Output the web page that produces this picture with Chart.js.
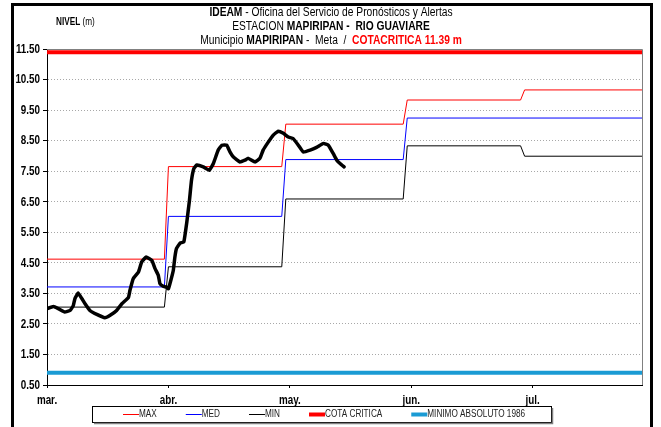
<!DOCTYPE html>
<html>
<head>
<meta charset="utf-8">
<script src="https://cdn.jsdelivr.net/npm/chart.js@4.4.1/dist/chart.umd.min.js"></script>
<style>
  html, body { margin: 0; padding: 0; background: #fff; }
  #wrap { position: relative; width: 661px; height: 427px; }
</style>
</head>
<body>
<div id="wrap"><canvas id="c" width="661" height="427"></canvas></div>
<script>
const FAMILY = '"Liberation Sans", Arial, sans-serif';
const SQUEEZE = 0.82; // horizontal condensing for the narrow lettering

// Day axis: day 0 = 1 March
const monthTicks  = [0, 30, 60, 90, 120];
const monthLabels = ['mar.', 'abr.', 'may.', 'jun.', 'jul.'];
const dayMax = 147;

// Level axis (m)
const levelMin = 0.5;
const levelMax = 11.5;
const levelStep = 1;

// Historic reference levels by period (stepwise)
const maxDays   = [0, 29, 30, 58, 59, 88, 89, 117, 118, 147];
const maxLevels = [4.62, 4.62, 7.65, 7.65, 9.04, 9.04, 9.83, 9.83, 10.16, 10.16];

const medDays   = [0, 29, 30, 58, 59, 88, 89, 147];
const medLevels = [3.71, 3.71, 6.02, 6.02, 7.88, 7.88, 9.24, 9.24];

const minDays   = [0, 29, 30, 58, 59, 88, 89, 117, 118, 147];
const minLevels = [3.05, 3.05, 4.37, 4.37, 6.59, 6.59, 8.33, 8.33, 7.99, 7.99];

const cotaCritica    = 11.39;
const minimoAbsoluto = 0.9;

// Observed daily levels
const obsDays = [0, 1.6, 2.8, 4.4, 5.7, 6.5, 6.9, 7.7, 8.6, 9.4, 10.6, 12.3, 14.3, 15.6, 17.2,
  18.5, 20.1, 20.5, 21.3, 22.6, 23.4, 24.5, 25.9, 26.7, 27.5, 27.9, 28.7, 29.4, 30.0, 30.6,
  31.2, 31.6, 32.0, 32.9, 33.8, 34.5, 35.2, 35.7, 36.3, 37.0, 38.6, 40.1, 41.1, 42.3, 43.2,
  44.4, 45.2, 46.0, 47.7, 48.9, 49.7, 51.4, 52.6, 53.4, 54.7, 55.9, 57.1, 58.4, 59.6, 60.8,
  62.1, 63.3, 65.0, 66.6, 68.3, 69.5, 70.7, 71.6, 72.4, 73.4];
const obsLevels = [3.00, 3.07, 3.00, 2.89, 2.94, 3.10, 3.33, 3.51, 3.33, 3.16, 2.94, 2.81, 2.70, 2.78, 2.94,
  3.16, 3.36, 3.60, 3.98, 4.20, 4.53, 4.69, 4.58, 4.31, 4.09, 3.82, 3.73, 3.71, 3.65, 3.93,
  4.25, 4.69, 4.97, 5.15, 5.18, 5.79, 6.55, 7.20, 7.59, 7.70, 7.64, 7.53, 7.75, 8.19, 8.35,
  8.35, 8.13, 7.97, 7.80, 7.86, 7.92, 7.80, 7.92, 8.19, 8.46, 8.68, 8.81, 8.74, 8.62, 8.57,
  8.35, 8.13, 8.19, 8.28, 8.41, 8.35, 8.08, 7.86, 7.75, 7.64];

const pts = (xs, ys) => xs.map((x, i) => ({ x, y: ys[i] }));
const flat = (v) => [{ x: 0, y: v }, { x: dayMax, y: v }];

// condensed text helpers
const fontOf = (bold, size) => (bold ? 'bold ' : '') + size + 'px ' + FAMILY;
function textWidth(ctx, t, bold, size) {
  ctx.font = fontOf(bold, size);
  return ctx.measureText(t).width * SQUEEZE;
}
function drawText(ctx, t, x, y, o) {
  ctx.save();
  ctx.font = fontOf(o.bold, o.size);
  ctx.fillStyle = o.color || '#000';
  ctx.textBaseline = 'middle';
  ctx.textAlign = o.align || 'left';
  ctx.translate(x, y);
  ctx.scale(SQUEEZE, 1);
  ctx.fillText(t, 0, 0);
  ctx.restore();
}
function drawRich(ctx, segs, cx, y, size) {
  let w = 0;
  segs.forEach(s => { w += textWidth(ctx, s.t, s.b, size); });
  let x = cx - w / 2;
  segs.forEach(s => {
    drawText(ctx, s.t, x, y, { bold: s.b, size, color: s.c });
    x += textWidth(ctx, s.t, s.b, size);
  });
}

// Plot border, tick labels, titles, frame and legend
const decorations = {
  id: 'decorations',
  beforeDatasetsDraw(chart) {
    const { ctx, chartArea: a } = chart;
    ctx.save();
    ctx.strokeStyle = '#808080';
    ctx.lineWidth = 1;
    ctx.beginPath();
    ctx.moveTo(a.left, Math.round(a.top) + 0.5);
    ctx.lineTo(Math.round(a.right) + 0.5, Math.round(a.top) + 0.5);
    ctx.lineTo(Math.round(a.right) + 0.5, a.bottom);
    ctx.stroke();
    ctx.restore();
  },
  afterDraw(chart) {
    const { ctx, scales: { x: xs, y: ys } } = chart;

    // axis tick labels, placed by the scales
    ys.ticks.forEach(t => {
      drawText(ctx, Number(t.value).toFixed(2), xs.left - 7, ys.getPixelForValue(t.value) + 0.5,
        { bold: true, size: 12, align: 'right' });
    });
    xs.ticks.forEach(t => {
      const i = monthTicks.indexOf(t.value);
      drawText(ctx, monthLabels[i], xs.getPixelForValue(t.value), ys.bottom + 16,
        { bold: true, size: 12, align: 'center' });
    });

    ctx.save();
    // frame
    ctx.strokeStyle = '#000';
    ctx.lineWidth = 3;
    ctx.strokeRect(12.5, 4.5, 639, 440);
    ctx.restore();

    drawRich(ctx, [{ t: 'IDEAM', b: true }, { t: ' - Oficina del Servicio de Pronósticos y Alertas' }], 331, 13, 12.5);
    drawRich(ctx, [{ t: 'ESTACION ' }, { t: 'MAPIRIPAN -  RIO GUAVIARE', b: true }], 331, 27, 12.5);
    drawRich(ctx, [{ t: 'Municipio ' }, { t: 'MAPIRIPAN', b: true }, { t: ' -  Meta  /  ' },
      { t: 'COTACRITICA ' + cotaCritica.toFixed(2) + ' m', b: true, c: '#ff0000' }], 331, 41, 12.5);

    // axis caption
    drawText(ctx, 'NIVEL', 56, 22, { bold: true, size: 10 });
    drawText(ctx, '(m)', 56 + textWidth(ctx, 'NIVEL ', true, 10), 22, { size: 10 });

    // legend
    const bx = 92, by = 406, bw = 459, bh = 16;
    ctx.save();
    ctx.fillStyle = '#fff';
    ctx.fillRect(bx, by, bw, bh);
    ctx.strokeStyle = '#000';
    ctx.lineWidth = 1;
    ctx.strokeRect(bx + 0.5, by + 0.5, bw, bh);
    ctx.strokeStyle = '#808080';
    ctx.lineWidth = 1.5;
    ctx.beginPath();
    ctx.moveTo(bx + 2, by + bh + 1.5);
    ctx.lineTo(bx + bw + 1.5, by + bh + 1.5);
    ctx.lineTo(bx + bw + 1.5, by + 2);
    ctx.stroke();

    const items = chart.data.datasets.filter(d => d.inLegend);
    const lineLen = 16, gap = 29, size = 10;
    let x = bx + 31;
    const ly = by + bh / 2 + 0.5;
    items.forEach(d => {
      ctx.strokeStyle = d.borderColor;
      ctx.lineWidth = d.borderWidth;
      ctx.beginPath();
      ctx.moveTo(x, ly);
      ctx.lineTo(x + lineLen, ly);
      ctx.stroke();
      drawText(ctx, d.label, x + lineLen, ly, { size, color: '#222' });
      x += lineLen + textWidth(ctx, d.label, false, size) + gap;
    });
    ctx.restore();
  }
};

new Chart(document.getElementById('c'), {
  type: 'scatter',
  data: {
    datasets: [
      { label: 'MAX', data: pts(maxDays, maxLevels), borderColor: '#ff0000', borderWidth: 1, inLegend: true, order: 2 },
      { label: 'MED', data: pts(medDays, medLevels), borderColor: '#0000ff', borderWidth: 1, inLegend: true, order: 3 },
      { label: 'MIN', data: pts(minDays, minLevels), borderColor: '#000000', borderWidth: 1, inLegend: true, order: 4 },
      { label: 'COTA CRITICA', data: flat(cotaCritica), borderColor: '#ff0000', borderWidth: 4, inLegend: true, order: 5 },
      { label: 'MINIMO ABSOLUTO 1986', data: flat(minimoAbsoluto), borderColor: '#1a9bd4', borderWidth: 4, inLegend: true, order: 6 },
      { label: 'NIVEL', data: pts(obsDays, obsLevels), borderColor: '#000000', borderWidth: 3.5, tension: 0.1, inLegend: false, order: 1 }
    ].map(d => Object.assign({ showLine: true, pointRadius: 0, pointHoverRadius: 0, fill: false, borderJoinStyle: 'round', borderCapStyle: 'round' }, d))
  },
  options: {
    responsive: false,
    animation: false,
    events: [],
    layout: { padding: { top: 49, right: 19, left: 0, bottom: 0 } },
    plugins: { legend: { display: false }, tooltip: { enabled: false }, title: { display: false } },
    scales: {
      x: {
        type: 'linear',
        min: 0,
        max: dayMax,
        afterBuildTicks: s => { s.ticks = monthTicks.map(v => ({ value: v })); },
        afterFit: s => { s.height = 42; },
        ticks: { display: false },
        grid: { drawOnChartArea: false, tickLength: 3, color: '#000', tickColor: '#000' },
        border: { color: '#000', width: 1 }
      },
      y: {
        min: levelMin,
        max: levelMax,
        afterFit: s => { s.width = 47; },
        ticks: { display: false, stepSize: levelStep },
        grid: {
          color: c => (c.tick && (Math.abs(c.tick.value - levelMin) < 1e-6 || Math.abs(c.tick.value - levelMax) < 1e-6)) ? 'rgba(0,0,0,0)' : '#a8a8a8',
          tickBorderDash: [],
          tickColor: '#000',
          tickLength: 4,
          lineWidth: 1
        },
        border: { color: '#000', width: 1, dash: [1, 2] }
      }
    }
  },
  plugins: [decorations]
});
</script>
</body>
</html>
